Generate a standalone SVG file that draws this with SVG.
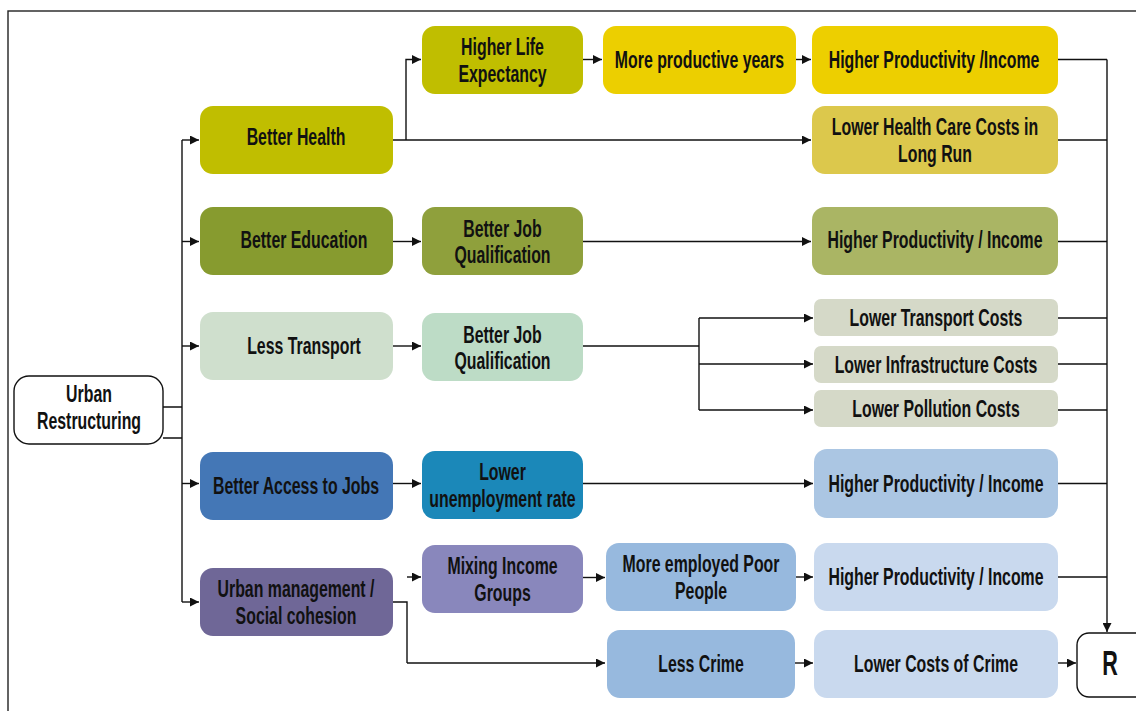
<svg xmlns="http://www.w3.org/2000/svg" width="1136" height="711" viewBox="0 0 1136 711">
<style>
.t{font-family:"Liberation Sans",Arial,sans-serif;font-weight:bold;font-size:23px;fill:#111;text-anchor:middle}
.c{fill:none;stroke:#111;stroke-width:1.4}
.b{stroke:none}
</style>
<defs>
<marker id="ar" viewBox="0 0 10 10" refX="10" refY="5" markerWidth="11" markerHeight="9" markerUnits="userSpaceOnUse" orient="auto">
<path d="M0,0 L10,5 L0,10 z" fill="#111"/>
</marker>
</defs>
<rect x="8" y="11" width="1140" height="720" fill="none" stroke="#222" stroke-width="1.4"/>
<g id="connectors" class="c">
<path d="M182,140 V602"/>
<path d="M163,407 H182 M163,438 H182"/>
<path d="M182,140 H199" marker-end="url(#ar)"/>
<path d="M182,241.5 H199" marker-end="url(#ar)"/>
<path d="M182,346 H199" marker-end="url(#ar)"/>
<path d="M182,483.5 H199" marker-end="url(#ar)"/>
<path d="M182,602 H199" marker-end="url(#ar)"/>
<path d="M393,140 H811" marker-end="url(#ar)"/>
<path d="M406,140 V59.5 H421" marker-end="url(#ar)"/>
<path d="M583,59.5 H602" marker-end="url(#ar)"/>
<path d="M796,59.5 H811" marker-end="url(#ar)"/>
<path d="M393,241.5 H421" marker-end="url(#ar)"/>
<path d="M583,241.5 H811" marker-end="url(#ar)"/>
<path d="M393,346 H421" marker-end="url(#ar)"/>
<path d="M583,346 H699"/>
<path d="M699,318 V410"/>
<path d="M699,318 H813" marker-end="url(#ar)"/>
<path d="M699,364 H813" marker-end="url(#ar)"/>
<path d="M699,410 H813" marker-end="url(#ar)"/>
<path d="M393,483.5 H421" marker-end="url(#ar)"/>
<path d="M583,483.5 H813" marker-end="url(#ar)"/>
<path d="M393,602 H407 V663"/>
<path d="M407,577 H421" marker-end="url(#ar)"/>
<path d="M407,663 H605" marker-end="url(#ar)"/>
<path d="M583,577.5 H605" marker-end="url(#ar)"/>
<path d="M796,577 H813" marker-end="url(#ar)"/>
<path d="M795,663 H813" marker-end="url(#ar)"/>
<path d="M1058,663 H1076" marker-end="url(#ar)"/>
<path d="M1058,59.5 H1107 M1058,140 H1107 M1058,241.5 H1107 M1058,318 H1107 M1058,364 H1107 M1058,410 H1107 M1058,483.5 H1107 M1058,577 H1107"/>
<path d="M1107,59.5 V632" marker-end="url(#ar)"/>
</g>
<g id="urban"><rect x="14" y="376" width="149" height="68" rx="15" fill="#fff" stroke="#111" stroke-width="1.4"/><text class="t" transform="translate(89,410) scale(.69,1)"><tspan x="0" y="-8.5">Urban</tspan><tspan x="0" y="18.5">Restructuring</tspan></text></g>
<g id="health"><rect x="200" y="106" width="193" height="68" rx="13" fill="#c0be00"/><text class="t" transform="translate(296,145) scale(.69,1)">Better Health</text></g>
<g id="education"><rect x="200" y="207" width="193" height="68" rx="13" fill="#879b2f"/><text class="t" transform="translate(304,248) scale(.69,1)">Better Education</text></g>
<g id="transport"><rect x="200" y="312" width="193" height="68" rx="13" fill="#cfdfcd"/><text class="t" transform="translate(304,353.5) scale(.69,1)">Less Transport</text></g>
<g id="access"><rect x="200" y="452" width="193" height="68" rx="13" fill="#4477b6"/><text class="t" transform="translate(296,493.5) scale(.69,1)">Better Access to Jobs</text></g>
<g id="management"><rect x="200" y="568" width="193" height="68" rx="13" fill="#6f6797"/><text class="t" transform="translate(296,602) scale(.69,1)"><tspan x="0" y="-5">Urban management /</tspan><tspan x="0" y="22">Social cohesion</tspan></text></g>
<g id="life"><rect x="422" y="26" width="161" height="68" rx="13" fill="#c0be00"/><text class="t" transform="translate(502.5,60) scale(.69,1)"><tspan x="0" y="-5">Higher Life</tspan><tspan x="0" y="22">Expectancy</tspan></text></g>
<g id="job-edu"><rect x="422" y="207" width="161" height="68" rx="13" fill="#8fa03c"/><text class="t" transform="translate(502.5,241.5) scale(.69,1)"><tspan x="0" y="-5">Better Job</tspan><tspan x="0" y="22">Qualification</tspan></text></g>
<g id="job-tr"><rect x="422" y="313" width="161" height="68" rx="13" fill="#bddcc6"/><text class="t" transform="translate(502.5,347.5) scale(.69,1)"><tspan x="0" y="-5">Better Job</tspan><tspan x="0" y="22">Qualification</tspan></text></g>
<g id="unemp"><rect x="422" y="451" width="161" height="68" rx="13" fill="#1b88b9"/><text class="t" transform="translate(502.5,485) scale(.69,1)"><tspan x="0" y="-5">Lower</tspan><tspan x="0" y="22">unemployment rate</tspan></text></g>
<g id="mixing"><rect x="422" y="545" width="161" height="68" rx="13" fill="#8987bc"/><text class="t" transform="translate(502.5,579) scale(.69,1)"><tspan x="0" y="-5">Mixing Income</tspan><tspan x="0" y="22">Groups</tspan></text></g>
<g id="years"><rect x="603" y="26" width="193" height="68" rx="13" fill="#eccf00"/><text class="t" transform="translate(699.5,68) scale(.69,1)">More productive years</text></g>
<g id="poor"><rect x="606" y="543" width="190" height="68" rx="13" fill="#97b9de"/><text class="t" transform="translate(701,577) scale(.69,1)"><tspan x="0" y="-5">More employed Poor</tspan><tspan x="0" y="22">People</tspan></text></g>
<g id="crime"><rect x="607" y="630" width="188" height="68" rx="13" fill="#97b9de"/><text class="t" transform="translate(701,672) scale(.69,1)">Less Crime</text></g>
<g id="prod1"><rect x="812" y="26" width="246" height="68" rx="13" fill="#edcf00"/><text class="t" transform="translate(934,68) scale(.69,1)">Higher Productivity /Income</text></g>
<g id="healthcost"><rect x="812" y="106" width="246" height="68" rx="13" fill="#dcc84c"/><text class="t" transform="translate(935,140) scale(.69,1)"><tspan x="0" y="-5">Lower Health Care Costs in</tspan><tspan x="0" y="22">Long Run</tspan></text></g>
<g id="prod2"><rect x="812" y="207" width="246" height="68" rx="13" fill="#aab564"/><text class="t" transform="translate(935,248) scale(.69,1)">Higher Productivity / Income</text></g>
<g id="trcost"><rect x="814" y="299" width="244" height="37" rx="7" fill="#d5d9c8"/><text class="t" transform="translate(936,326) scale(.69,1)">Lower Transport Costs</text></g>
<g id="infracost"><rect x="814" y="346" width="244" height="37" rx="7" fill="#d5d9c8"/><text class="t" transform="translate(936,372.5) scale(.69,1)">Lower Infrastructure Costs</text></g>
<g id="pollcost"><rect x="814" y="390" width="244" height="37" rx="7" fill="#d5d9c8"/><text class="t" transform="translate(936,416.5) scale(.69,1)">Lower Pollution Costs</text></g>
<g id="prod3"><rect x="814" y="449" width="244" height="69" rx="13" fill="#abc6e3"/><text class="t" transform="translate(936,491.5) scale(.69,1)">Higher Productivity / Income</text></g>
<g id="prod4"><rect x="814" y="543" width="244" height="68" rx="13" fill="#c9d9ee"/><text class="t" transform="translate(936,585) scale(.69,1)">Higher Productivity / Income</text></g>
<g id="crimecost"><rect x="814" y="630" width="244" height="68" rx="13" fill="#c9d9ee"/><text class="t" transform="translate(936,672) scale(.69,1)">Lower Costs of Crime</text></g>
<g id="R"><rect x="1077" y="633" width="80" height="64" rx="12" fill="#fff" stroke="#111" stroke-width="1.4"/><text class="t" transform="translate(1110,675) scale(.6,1)" style="font-size:36px">R</text></g>
</svg>
